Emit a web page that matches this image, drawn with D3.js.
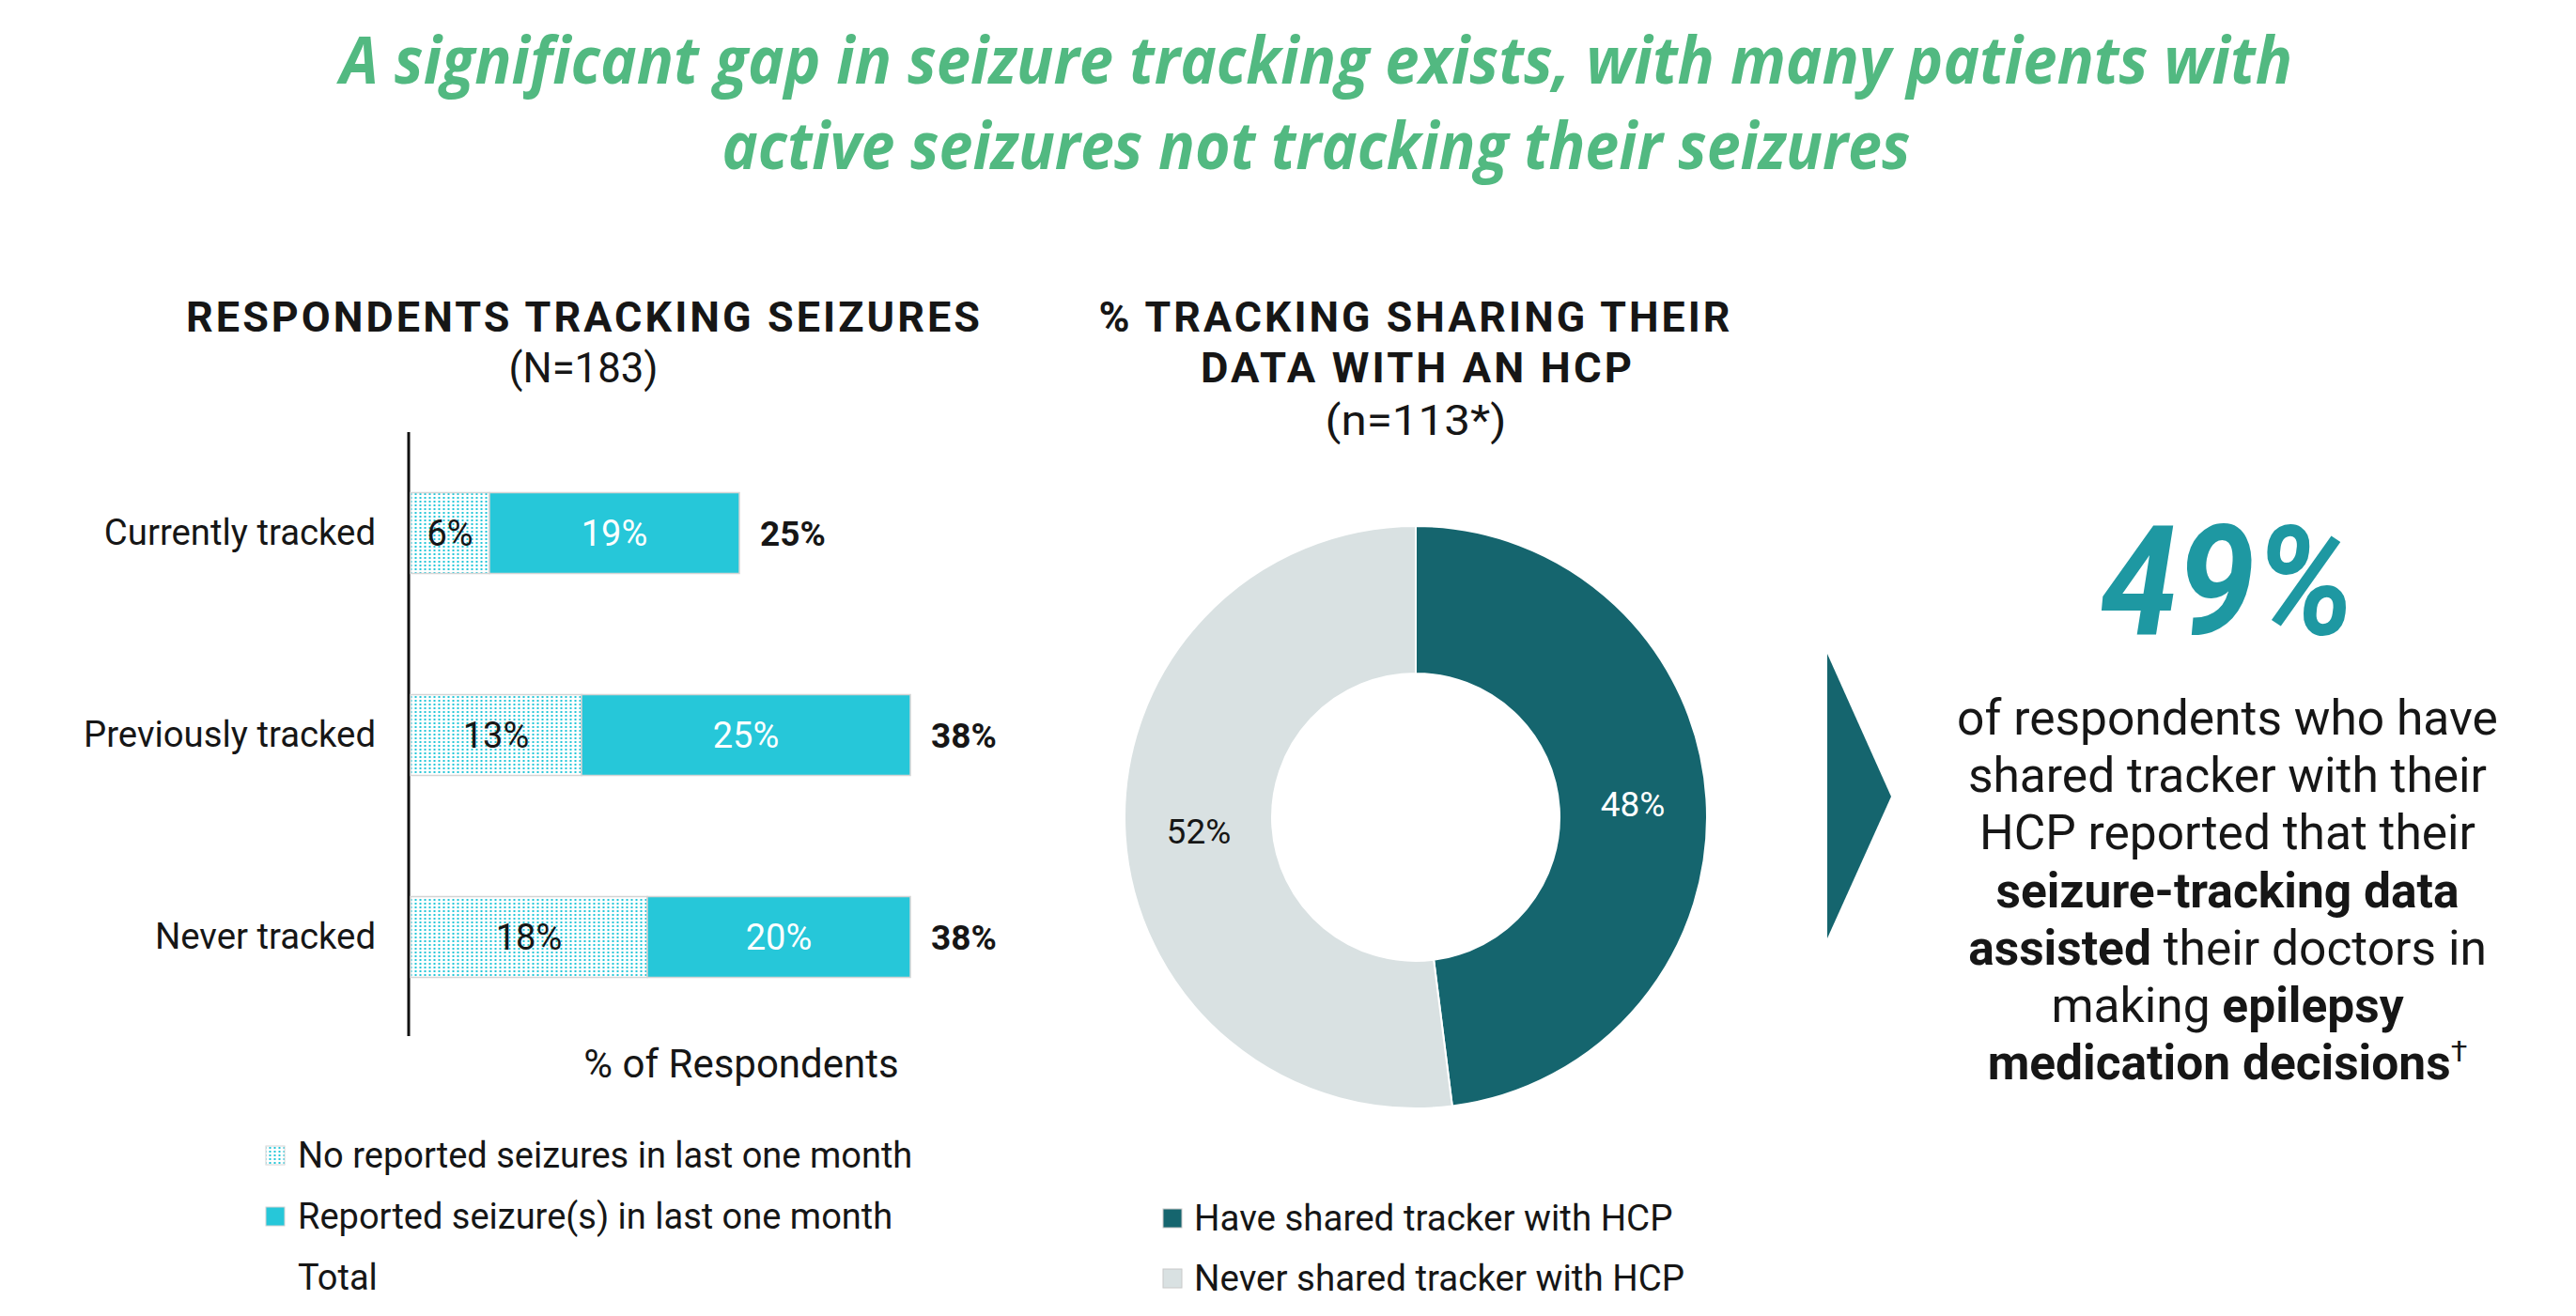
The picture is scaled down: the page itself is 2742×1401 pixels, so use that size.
<!DOCTYPE html>
<html>
<head>
<meta charset="utf-8">
<script src="https://cdn.jsdelivr.net/npm/d3@7"></script>
<style>
  html, body { margin: 0; padding: 0; background: #fff; }
  svg { display: block; }
  text { font-family: Roboto, "Noto Sans", sans-serif; }
</style>
</head>
<body>
<svg id="chart" width="2742" height="1401"></svg>
<script>
// ---------- DATA ----------
const titleLines = [
  "A significant gap in seizure tracking exists, with many patients with",
  "active seizures not tracking their seizures"
];
const barTitle = "RESPONDENTS TRACKING SEIZURES";
const barSubtitle = "(N=183)";
const categories = ["Currently tracked", "Previously tracked", "Never tracked"];
const noSeizures = [6, 13, 18];
const withSeizures = [19, 25, 20];
const totals = [25, 38, 38];
const xAxisLabel = "% of Respondents";
const barLegend = ["No reported seizures in last one month", "Reported seizure(s) in last one month", "Total"];

const donutTitle = ["% TRACKING SHARING THEIR", "DATA WITH AN HCP"];
const donutSubtitle = "(n=113*)";
const donutLabels = ["Have shared tracker with HCP", "Never shared tracker with HCP"];
const donutValues = [48, 52];

const bigStat = "49%";

// ---------- STYLE ----------
const cGreen = "#52b981";
const cCyan = "#26c7d9";
const cTeal = "#15656e";
const cGray = "#d9e1e2";
const cStat = "#1e98a2";
const cText = "#161616";

const svg = d3.select("#chart");
const defs = svg.append("defs");
const pat = defs.append("pattern").attr("id", "dots")
  .attr("patternUnits", "userSpaceOnUse").attr("width", 5).attr("height", 4);
pat.append("rect").attr("width", 5).attr("height", 4).attr("fill", "#fff");
pat.append("rect").attr("x", 1.5).attr("y", 1).attr("width", 2).attr("height", 2).attr("fill", cCyan);

// ---------- TITLE ----------
svg.append("text").attr("x", 1401).attr("y", 89)
  .attr("text-anchor", "middle")
  .attr("textLength", 2078).attr("lengthAdjust", "spacingAndGlyphs")
  .style("font-family", "'Open Sans', sans-serif").style("font-weight", 700).style("font-style", "italic")
  .style("font-size", "70px").attr("fill", cGreen).text(titleLines[0]);
svg.append("text").attr("x", 1401).attr("y", 180)
  .attr("text-anchor", "middle")
  .attr("textLength", 1265).attr("lengthAdjust", "spacingAndGlyphs")
  .style("font-family", "'Open Sans', sans-serif").style("font-weight", 700).style("font-style", "italic")
  .style("font-size", "70px").attr("fill", cGreen).text(titleLines[1]);

// ---------- BAR CHART ----------
svg.append("text").attr("x", 622).attr("y", 353).attr("text-anchor", "middle")
  .attr("textLength", 848).attr("lengthAdjust", "spacingAndGlyphs")
  .style("font-weight", 700).style("font-size", "44px").style("letter-spacing", "3px")
  .attr("fill", cText).text(barTitle);
svg.append("text").attr("x", 621).attr("y", 407).attr("text-anchor", "middle")
  .attr("textLength", 159).attr("lengthAdjust", "spacingAndGlyphs")
  .style("font-size", "44px").attr("fill", cText).text(barSubtitle);

const x = d3.scaleLinear().domain([0, 100]).range([437, 437 + 1400]);
const y = d3.scaleBand().domain(categories).range([460, 1105]).paddingInner(0.6).paddingOuter(0.3);

const yAxis = svg.append("g").attr("transform", "translate(435,0)")
  .call(d3.axisLeft(y).tickSize(0).tickSizeOuter(0).tickPadding(35));
yAxis.select(".domain").attr("stroke", "#111").attr("stroke-width", 3)
  .attr("d", `M0,460V1103`);
yAxis.selectAll(".tick text").style("font-family", "Roboto, sans-serif")
  .style("font-size", "38.3px").attr("fill", cText);

const rows = categories.map((c, i) => ({ cat: c, a: noSeizures[i], b: withSeizures[i], t: totals[i] }));
const g = svg.append("g");
g.selectAll("rect.a").data(rows).join("rect").attr("class", "a")
  .attr("x", x(0)).attr("y", d => y(d.cat))
  .attr("width", d => x(d.a) - x(0)).attr("height", y.bandwidth())
  .attr("fill", "url(#dots)").attr("stroke", "#d4d4d4").attr("stroke-width", 1.5);
g.selectAll("rect.b").data(rows).join("rect").attr("class", "b")
  .attr("x", d => x(d.a)).attr("y", d => y(d.cat))
  .attr("width", d => x(d.a + d.b) - x(d.a)).attr("height", y.bandwidth())
  .attr("fill", cCyan).attr("stroke", "#d4d4d4").attr("stroke-width", 1.5);
g.selectAll("text.a").data(rows).join("text").attr("class", "a")
  .attr("x", d => (x(0) + x(d.a)) / 2).attr("y", d => y(d.cat) + y.bandwidth() / 2)
  .attr("dy", "0.36em").attr("text-anchor", "middle")
  .style("font-size", "38px").attr("fill", cText).text(d => d.a + "%");
g.selectAll("text.b").data(rows).join("text").attr("class", "b")
  .attr("x", d => (x(d.a) + x(d.a + d.b)) / 2).attr("y", d => y(d.cat) + y.bandwidth() / 2)
  .attr("dy", "0.36em").attr("text-anchor", "middle")
  .style("font-size", "38px").attr("fill", "#fff").text(d => d.b + "%");
g.selectAll("text.t").data(rows).join("text").attr("class", "t")
  .attr("x", d => x(d.t) + 22).attr("y", d => y(d.cat) + y.bandwidth() / 2)
  .attr("dy", "0.36em").attr("text-anchor", "start")
  .style("font-size", "37px").style("font-weight", 700).attr("fill", cText).text(d => d.t + "%");

svg.append("text").attr("x", 789).attr("y", 1147).attr("text-anchor", "middle")
  .style("font-size", "42px").attr("fill", cText).text(xAxisLabel);

// bar legend
const legL = svg.append("g");
const legFills = ["url(#dots)", cCyan, null];
barLegend.forEach((t, i) => {
  const yy = 1243 + i * 65;
  if (legFills[i]) {
    legL.append("rect").attr("x", 283).attr("y", yy - 23).attr("width", 20).attr("height", 20)
      .attr("fill", legFills[i]).attr("stroke", "#d4d4d4").attr("stroke-width", 1);
  }
  legL.append("text").attr("x", 317).attr("y", yy).style("font-size", "38px").attr("fill", cText).text(t);
});

// ---------- DONUT ----------
svg.append("text").attr("x", 1507).attr("y", 353).attr("text-anchor", "middle")
  .attr("textLength", 675).attr("lengthAdjust", "spacingAndGlyphs")
  .style("font-weight", 700).style("font-size", "44px").style("letter-spacing", "3px")
  .attr("fill", cText).text(donutTitle[0]);
svg.append("text").attr("x", 1509).attr("y", 407).attr("text-anchor", "middle")
  .attr("textLength", 462).attr("lengthAdjust", "spacingAndGlyphs")
  .style("font-weight", 700).style("font-size", "44px").style("letter-spacing", "3px")
  .attr("fill", cText).text(donutTitle[1]);
svg.append("text").attr("x", 1507).attr("y", 463).attr("text-anchor", "middle")
  .attr("textLength", 193).attr("lengthAdjust", "spacingAndGlyphs")
  .style("font-size", "44px").attr("fill", cText).text(donutSubtitle);

const pie = d3.pie().sort(null).value(d => d.v);
const arc = d3.arc().innerRadius(153).outerRadius(310);
const donutData = pie(donutLabels.map((l, i) => ({ l, v: donutValues[i] })));
const dColors = [cTeal, cGray];
const dText = ["#fff", cText];
const dg = svg.append("g").attr("transform", "translate(1507,870)");
dg.selectAll("path").data(donutData).join("path")
  .attr("d", arc).attr("fill", (d, i) => dColors[i]).attr("stroke", "#fff").attr("stroke-width", 2);
dg.selectAll("text").data(donutData).join("text")
  .attr("transform", d => `translate(${arc.centroid(d)})`)
  .attr("dy", "0.36em").attr("text-anchor", "middle")
  .style("font-size", "37px").attr("fill", (d, i) => dText[i]).text(d => d.data.v + "%");

// donut legend
donutLabels.forEach((t, i) => {
  const yy = 1310 + i * 64;
  svg.append("rect").attr("x", 1238).attr("y", yy - 23).attr("width", 20).attr("height", 20)
    .attr("fill", dColors[i]).attr("stroke", "#c8c8c8").attr("stroke-width", 1);
  svg.append("text").attr("x", 1271).attr("y", yy).style("font-size", "38.5px").attr("fill", cText).text(t);
});

// ---------- CALLOUT ----------
svg.append("path").attr("d", "M1945,696L2013,848L1945,999Z").attr("fill", cTeal);

svg.append("text").attr("x", 2371).attr("y", 675).attr("text-anchor", "middle")
  .attr("textLength", 271).attr("lengthAdjust", "spacingAndGlyphs")
  .style("font-weight", 700).style("font-style", "italic").style("font-size", "162px")
  .attr("fill", cStat).text(bigStat);

const para = [
  [["of respondents who have", 400]],
  [["shared tracker with their", 400]],
  [["HCP reported that their", 400]],
  [["seizure-tracking data", 700]],
  [["assisted", 700], [" their doctors in", 400]],
  [["making ", 400], ["epilepsy", 700]],
  [["medication decisions", 700], ["†", 400, true]]
];
para.forEach((line, i) => {
  const t = svg.append("text").attr("x", 2371).attr("y", 782 + i * 61.2)
    .attr("text-anchor", "middle").style("font-size", "51.5px").attr("fill", cText);
  line.forEach(([s, w, sup]) => {
    const ts = t.append("tspan").style("font-weight", w).text(s);
    if (sup) ts.attr("baseline-shift", "super").style("font-size", "32px");
  });
});
</script>
</body>
</html>
